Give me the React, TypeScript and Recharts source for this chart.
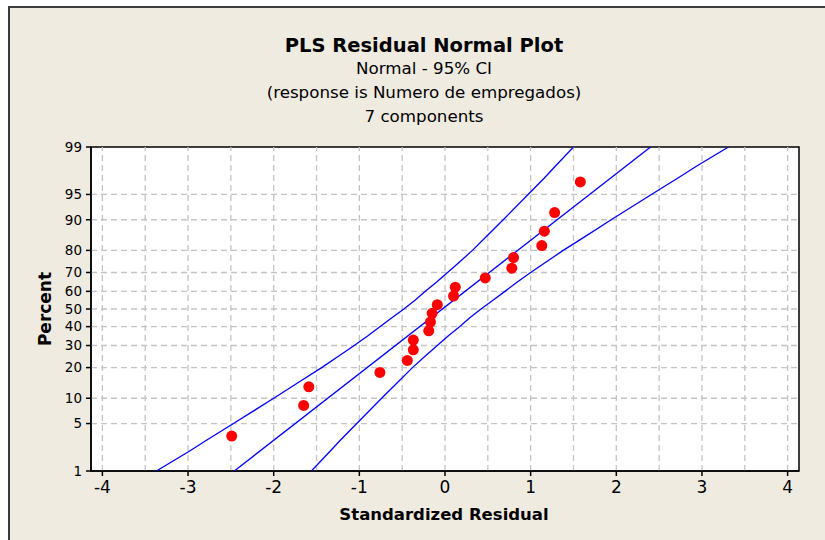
import React from 'react';
import { ScatterChart, Scatter, XAxis, YAxis, ReferenceLine, ReferenceArea, CartesianGrid } from 'recharts';

// ---- data ----
const percentTicks = [1, 5, 10, 20, 30, 40, 50, 60, 70, 80, 90, 95, 99];
const percentGrid = [5, 10, 20, 30, 40, 50, 60, 70, 80, 90, 95];
const xTicks = [-4, -3, -2, -1, 0, 1, 2, 3, 4];
const xGrid = [-4, -3.5, -3, -2.5, -2, -1.5, -1, -0.5, 0, 0.5, 1, 1.5, 2, 2.5, 3, 3.5, 4];

const residuals = [-2.49, -1.65, -1.59, -0.76, -0.44, -0.37, -0.37, -0.19, -0.17, -0.15, -0.09, 0.10, 0.12, 0.47, 0.78, 0.80, 1.13, 1.16, 1.28, 1.58];
const pointPercents = [3.4, 8.3, 13.2, 18.1, 23.0, 27.9, 32.8, 37.7, 42.6, 47.5, 52.5, 57.4, 62.3, 67.2, 72.1, 77.0, 81.9, 86.8, 91.7, 96.6];

const bandPercents = [1, 2, 3, 5, 10, 15, 20, 25, 30, 35, 40, 45, 50, 55, 60, 65, 70, 75, 80, 85, 90, 95, 97, 98, 99];
const lowerBand = [-3.37, -3.00, -2.78, -2.47, -2.00, -1.69, -1.44, -1.24, -1.06, -0.90, -0.76, -0.62, -0.48, -0.35, -0.23, -0.10, 0.03, 0.17, 0.32, 0.48, 0.68, 0.97, 1.16, 1.29, 1.50];
const upperBand = [-1.56, -1.35, -1.22, -1.03, -0.74, -0.54, -0.38, -0.23, -0.09, 0.04, 0.17, 0.29, 0.42, 0.56, 0.70, 0.84, 1.00, 1.18, 1.38, 1.63, 1.94, 2.41, 2.72, 2.94, 3.31];

const fitPercents = [1, 99];
const fitLine = [-2.46, 2.40];

// ---- probability (probit) transform for the normal-probability y scale ----
function probit(p: number): number {
  const a = [-3.969683028665376e1, 2.209460984245205e2, -2.759285104469687e2, 1.38357751867269e2, -3.066479806614716e1, 2.506628277459239];
  const b = [-5.447609879822406e1, 1.615858368580409e2, -1.556989798598866e2, 6.680131188771972e1, -1.328068155288572e1];
  const c = [-7.784894002430293e-3, -3.223964580411365e-1, -2.400758277161838, -2.549732539343734, 4.374664141464968, 2.938163982698783];
  const d = [7.784695709041462e-3, 3.224671290700398e-1, 2.445134137142996, 3.754408661907416];
  const plow = 0.02425;
  if (p < plow) {
    const q = Math.sqrt(-2 * Math.log(p));
    return (((((c[0] * q + c[1]) * q + c[2]) * q + c[3]) * q + c[4]) * q + c[5]) / ((((d[0] * q + d[1]) * q + d[2]) * q + d[3]) * q + 1);
  }
  if (p <= 1 - plow) {
    const q = p - 0.5;
    const r = q * q;
    return ((((((a[0] * r + a[1]) * r + a[2]) * r + a[3]) * r + a[4]) * r + a[5]) * q) / (((((b[0] * r + b[1]) * r + b[2]) * r + b[3]) * r + b[4]) * r + 1);
  }
  const q = Math.sqrt(-2 * Math.log(1 - p));
  return -(((((c[0] * q + c[1]) * q + c[2]) * q + c[3]) * q + c[4]) * q + c[5]) / ((((d[0] * q + d[1]) * q + d[2]) * q + d[3]) * q + 1);
}

const z = (pct: number) => probit(pct / 100);

const points = residuals.map((x, i) => ({ x, z: z(pointPercents[i]) }));
const lower = lowerBand.map((x, i) => ({ x, z: z(bandPercents[i]) }));
const upper = upperBand.map((x, i) => ({ x, z: z(bandPercents[i]) }));
const fit = fitLine.map((x, i) => ({ x, z: z(fitPercents[i]) }));
const yTicks = percentTicks.map(z);
const Y_MIN = z(1);
const Y_MAX = z(99);
const X_MIN = -4.133;
const X_MAX = 4.133;

const FONT = '"DejaVu Sans", Verdana, sans-serif';
const BG = '#EFEBE1';

const yLabel = (v: number) => {
  let best = 0;
  for (let i = 0; i < yTicks.length; i++) if (Math.abs(yTicks[i] - v) < Math.abs(yTicks[best] - v)) best = i;
  return String(percentTicks[best]);
};

const Dot = (props: any) => <circle cx={props.cx} cy={props.cy} r={5.5} fill="#FF0000" />;
const NoDot = () => <g />;

export default function App() {
  return (
    <div style={{ position: 'absolute', left: 0, top: 0, width: 825, height: 540, background: '#FFFFFF', overflow: 'hidden', fontFamily: FONT }}>
      <div style={{ position: 'absolute', left: 8, top: 6, width: 817, height: 534, background: BG, borderTop: '2px solid #3A3A3A', borderLeft: '2px solid #3A3A3A', boxSizing: 'border-box' }} />
      <div style={{ position: 'absolute', left: 0, top: 0 }}>
        <ScatterChart width={825} height={540} margin={{ top: 147, right: 26, bottom: 29, left: 41 }}>
          <CartesianGrid horizontal={false} vertical={false} fill="#FFFFFF" />
          {xGrid.map((v) => (
            <ReferenceLine key={'gx' + v} x={v} stroke="#C4C4C4" strokeWidth={1.3} strokeDasharray="6 4" />
          ))}
          {percentGrid.map((p) => (
            <ReferenceLine key={'gy' + p} y={z(p)} stroke="#C4C4C4" strokeWidth={1.3} strokeDasharray="6 4" />
          ))}
          <XAxis
            type="number"
            dataKey="x"
            domain={[X_MIN, X_MAX]}
            ticks={xTicks}
            interval={0}
            allowDataOverflow
            height={40}
            tickSize={5}
            tickMargin={5}
            axisLine={{ stroke: '#000', strokeWidth: 1.5 }}
            tickLine={{ stroke: '#000', strokeWidth: 1.5 }}
            tick={{ fill: '#000', fontSize: 17, fontFamily: FONT }}
          />
          <YAxis
            type="number"
            dataKey="z"
            domain={[Y_MIN, Y_MAX]}
            ticks={yTicks}
            interval={0}
            allowDataOverflow
            width={50}
            tickSize={5}
            tickMargin={4}
            tickFormatter={yLabel}
            axisLine={{ stroke: '#000', strokeWidth: 1.5 }}
            tickLine={{ stroke: '#000', strokeWidth: 1.5 }}
            tick={{ fill: '#000', fontSize: 13.5, fontFamily: FONT }}
          />
          <Scatter data={lower} line={{ stroke: '#0000FF', strokeWidth: 1.3 }} shape={NoDot} isAnimationActive={false} />
          <Scatter data={fit} line={{ stroke: '#0000FF', strokeWidth: 1.3 }} shape={NoDot} isAnimationActive={false} />
          <Scatter data={upper} line={{ stroke: '#0000FF', strokeWidth: 1.3 }} shape={NoDot} isAnimationActive={false} />
          <Scatter data={points} shape={Dot} isAnimationActive={false} />
          <ReferenceArea x1={X_MIN} x2={X_MAX} y1={Y_MIN} y2={Y_MAX} fill="none" stroke="#000" strokeWidth={1.5} />
        </ScatterChart>
      </div>
      <div style={{ position: 'absolute', left: 224, width: 400, top: 34, textAlign: 'center', fontSize: 19.5, fontWeight: 'bold', color: '#000', lineHeight: '24px' }}>PLS Residual Normal Plot</div>
      <div style={{ position: 'absolute', left: 224, width: 400, top: 56, textAlign: 'center', fontSize: 16.7, color: '#000', lineHeight: '24px' }}>
        <div>Normal - 95% CI</div>
        <div>(response is Numero de empregados)</div>
        <div>7 components</div>
      </div>
      <div style={{ position: 'absolute', left: 244, width: 400, top: 504, textAlign: 'center', fontSize: 16.5, fontWeight: 'bold', color: '#000', lineHeight: '22px' }}>Standardized Residual</div>
      <div style={{ position: 'absolute', left: 45, top: 309, width: 0, height: 0 }}>
        <div style={{ position: 'absolute', left: -60, top: -11, width: 120, textAlign: 'center', fontSize: 17, fontWeight: 'bold', color: '#000', lineHeight: '22px', transform: 'rotate(-90deg)' }}>Percent</div>
      </div>
    </div>
  );
}
